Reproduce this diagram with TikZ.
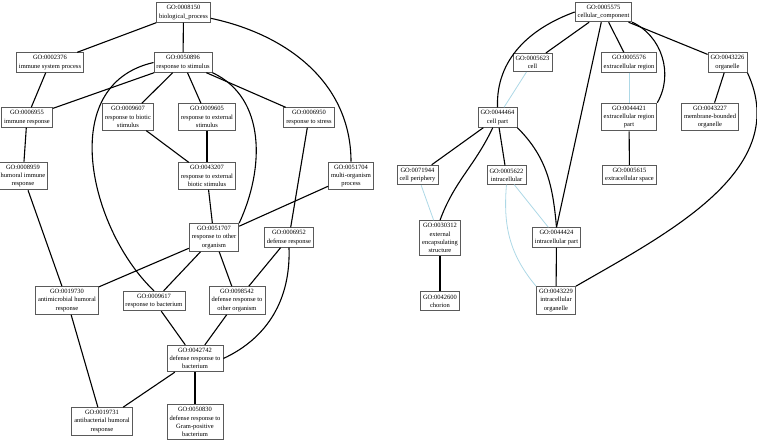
\documentclass[tikz,border=0pt]{standalone}
\usepackage{fontspec}
\setmainfont{Liberation Serif}
\usepackage{tikz}
\usetikzlibrary{positioning}
\definecolor{boxgray}{RGB}{90,90,90}
\definecolor{partblue}{RGB}{173,216,230}

\begin{document}
\begin{tikzpicture}[
  x=1pt, y=-1pt,
  term/.style={draw=boxgray, line width=0.9pt, align=center, inner xsep=2.5pt, inner ysep=2.8pt,
    font=\fontsize{6.5}{8.2}\selectfont},
  isa/.style={draw=black, line width=1.1pt},
  partof/.style={draw=partblue, line width=0.8pt}
]
\useasboundingbox (0,0) rectangle (757,442);

\node[term] (go8150)  at (183.5,12.5) {GO:0008150\\biological\_process};
\node[term] (go2376)  at (50,62.5)    {GO:0002376\\immune system process};
\node[term] (go50896) at (183,62.5)   {GO:0050896\\response to stimulus};
\node[term] (go6955)  at (27,117.5)   {GO:0006955\\immune response};
\node[term] (go9607)  at (128,117)    {GO:0009607\\response to biotic\\stimulus};
\node[term] (go9605)  at (207,117)    {GO:0009605\\response to external\\stimulus};
\node[term] (go6950)  at (309,117.5)  {GO:0006950\\response to stress};
\node[term] (go8959)  at (23,176)     {GO:0008959\\humoral immune\\response};
\node[term] (go43207) at (207,176)    {GO:0043207\\response to external\\biotic stimulus};
\node[term] (go51704) at (351,176)    {GO:0051704\\multi-organism\\process};
\node[term] (go51707) at (214,237.5)  {GO:0051707\\response to other\\organism};
\node[term] (go6952)  at (289,237.5)  {GO:0006952\\defense response};
\node[term] (go19730) at (67,300.5)   {GO:0019730\\antimicrobial humoral\\response};
\node[term] (go9617)  at (154,301)    {GO:0009617\\response to bacterium};
\node[term] (go98542) at (237,300.5)  {GO:0098542\\defense response to\\other organism};
\node[term] (go42742) at (195,358.5)  {GO:0042742\\defense response to\\bacterium};
\node[term] (go19731) at (102,421.5)  {GO:0019731\\antibacterial humoral\\response};
\node[term] (go50830) at (195,422)    {GO:0050830\\defense response to\\Gram-positive\\bacterium};

\node[term] (go5575)  at (603.5,12)   {GO:0005575\\cellular\_component};
\node[term] (go5623)  at (532.5,62.5) {GO:0005623\\cell};
\node[term] (go5576)  at (629,62.5)   {GO:0005576\\extracellular region};
\node[term] (go43226) at (727.5,62.5) {GO:0043226\\organelle};
\node[term] (go44464) at (497.5,117.5) {GO:0044464\\cell part};
\node[term] (go44421) at (629,117)    {GO:0044421\\extracellular region\\part};
\node[term] (go43227) at (710,117)    {GO:0043227\\membrane-bounded\\organelle};
\node[term] (go71944) at (417.5,175)  {GO:0071944\\cell periphery};
\node[term] (go5622)  at (506.5,175)  {GO:0005622\\intracellular};
\node[term] (go5615)  at (629.5,175)  {GO:0005615\\extracellular space};
\node[term] (go30312) at (440,238)    {GO:0030312\\external\\encapsulating\\structure};
\node[term] (go44424) at (556.5,237.5) {GO:0044424\\intracellular part};
\node[term] (go42600) at (440,301)    {GO:0042600\\chorion};
\node[term] (go43229) at (556,300.5)  {GO:0043229\\intracellular\\organelle};

\draw[isa] (go8150) -- (go2376);
\draw[isa] (go8150) -- (go50896);
\draw[isa] (go8150) to[out=-12, in=90] (go51704);
\draw[isa] (go2376) -- (go6955);
\draw[isa] (go50896) -- (go6955);
\draw[isa] (go50896) -- (go9607);
\draw[isa] (go50896) -- (go9605);
\draw[isa] (go50896) -- (go6950);
\draw[isa] (go50896.south east) to[out=-25, in=65] (go51707.north east);
\draw[isa] (go50896.west) .. controls (55,85) and (90,230) .. (go9617.north);
\draw[isa] (go6955) -- (go8959);
\draw[isa] (go9607) -- (go43207);
\draw[isa] (go9605) -- (go43207);
\draw[isa] (go8959) -- (go19730);
\draw[isa] (go43207) -- (go51707);
\draw[isa] (go51704) -- (go51707);
\draw[isa] (go6950) -- (go6952);
\draw[isa] (go51707) -- (go19730);
\draw[isa] (go51707) -- (go9617);
\draw[isa] (go51707) -- (go98542);
\draw[isa] (go6952) -- (go98542);
\draw[isa] (go6952.south) to[out=-88, in=25] (go42742.east);
\draw[isa] (go9617) -- (go42742);
\draw[isa] (go98542) -- (go42742);
\draw[isa] (go19730) -- (go19731);
\draw[isa] (go42742) -- (go19731);
\draw[isa] (go42742) -- (go50830);

\draw[isa] (go5575) -- (go5623);
\draw[isa] (go5575) -- (go5576);
\draw[isa] (go5575) -- (go43226);
\draw[isa] (go5575.west) to[out=200, in=92] (go44464.north);
\draw[isa] (go5575) -- (go44424.north);
\draw[isa] (go5575.south east) to[out=-25, in=60] (go44421.north east);
\draw[isa] (go43226) -- (go43227);
\draw[isa] (go43226.south east) to[out=-65, in=30] (go43229.north east);
\draw[isa] (go44421) -- (go5615);
\draw[isa] (go44464) -- (go71944);
\draw[isa] (go44464) to[out=-115, in=70] (go30312.north);
\draw[isa] (go44464) -- (go5622);
\draw[isa] (go44464.south east) to[out=-45, in=95] (go44424.north);
\draw[isa] (go30312) -- (go42600);
\draw[isa] (go44424) -- (go43229);

\draw[partof] (go5623) -- (go44464);
\draw[partof] (go5576) -- (go44421);
\draw[partof] (go71944) -- (go30312);
\draw[partof] (go5622) -- (go44424);
\draw[partof] (go5622.south) to[out=-95, in=130] (go43229.north west);
\end{tikzpicture}
\end{document}
